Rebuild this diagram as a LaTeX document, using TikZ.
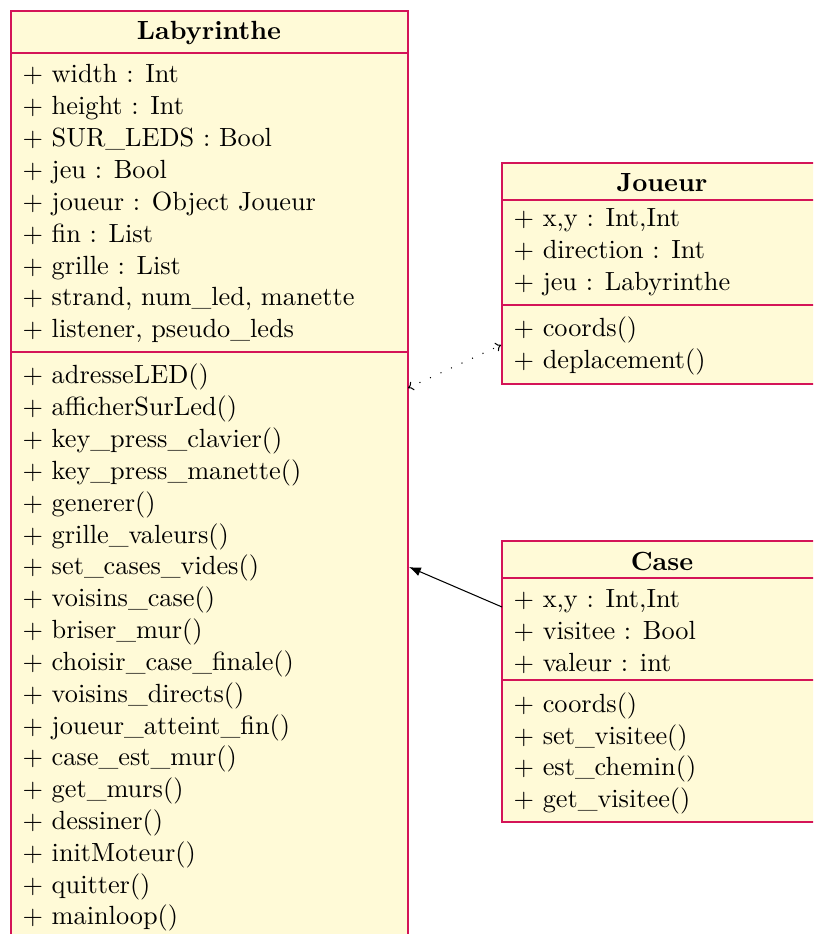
\documentclass[tikz,border=0pt]{standalone}
\usetikzlibrary{arrows.meta}
\definecolor{umlred}{RGB}{212,20,88}
\definecolor{umlfill}{RGB}{255,250,215}
\begin{document}
\begin{tikzpicture}[x=0.3802pt,y=-0.3802pt,
  classbox/.style={fill=umlfill,rectangle,inner sep=0pt,anchor=north west},
  sep/.style={draw=umlred,line width=0.5pt},
  mem/.style={anchor=base west,inner sep=0pt},
  ttl/.style={anchor=base,inner sep=0pt,font=\bfseries}]
\useasboundingbox (0,0) rectangle (813,934);
\clip (0,0) rectangle (813,934);
% boxes
\node[classbox,minimum width=396*0.3802pt,minimum height=960*0.3802pt] (lab) at (11,11) {};
\node[classbox,minimum width=320*0.3802pt,minimum height=220*0.3802pt] (jou) at (502,163) {};
\node[classbox,minimum width=320*0.3802pt,minimum height=280*0.3802pt] (cas) at (502,541) {};
\draw[sep] (lab.north west) rectangle (lab.south east);
\draw[sep] (jou.north west) rectangle (jou.south east);
\draw[sep] (cas.north west) rectangle (cas.south east);
\draw[sep] (11,53) -- (407,53);
\draw[sep] (11,352) -- (407,352);
\draw[sep] (502,200) -- (822,200);
\draw[sep] (502,305) -- (822,305);
\draw[sep] (502,578) -- (822,578);
\draw[sep] (502,680) -- (822,680);
% Labyrinthe
\node[ttl] (labt) at (209,40) {Labyrinthe};
\node[mem] (la1) at (22,83) {$+$ width : Int};
\node[mem] (la2) at (22,114.9) {$+$ height : Int};
\node[mem] (la3) at (22,146.7) {$+$ SUR\_LEDS : Bool};
\node[mem] (la4) at (22,178.6) {$+$ jeu : Bool};
\node[mem] (la5) at (22,210.4) {$+$ joueur : Object Joueur};
\node[mem] (la6) at (22,242.3) {$+$ fin : List};
\node[mem] (la7) at (22,274.1) {$+$ grille : List};
\node[mem] (la8) at (22,306) {$+$ strand, num\_led, manette};
\node[mem] (la9) at (22,337.8) {$+$ listener, pseudo\_leds};
\node[mem] (lm1) at (22,384) {$+$ adresseLED()};
\node[mem] (lm2) at (22,415.8) {$+$ afficherSurLed()};
\node[mem] (lm3) at (22,447.6) {$+$ key\_press\_clavier()};
\node[mem] (lm4) at (22,479.5) {$+$ key\_press\_manette()};
\node[mem] (lm5) at (22,511.3) {$+$ generer()};
\node[mem] (lm6) at (22,543.1) {$+$ grille\_valeurs()};
\node[mem] (lm7) at (22,574.9) {$+$ set\_cases\_vides()};
\node[mem] (lm8) at (22,606.7) {$+$ voisins\_case()};
\node[mem] (lm9) at (22,638.6) {$+$ briser\_mur()};
\node[mem] (lm10) at (22,670.4) {$+$ choisir\_case\_finale()};
\node[mem] (lm11) at (22,702.2) {$+$ voisins\_directs()};
\node[mem] (lm12) at (22,734) {$+$ joueur\_atteint\_fin()};
\node[mem] (lm13) at (22,765.8) {$+$ case\_est\_mur()};
\node[mem] (lm14) at (22,797.7) {$+$ get\_murs()};
\node[mem] (lm15) at (22,829.5) {$+$ dessiner()};
\node[mem] (lm16) at (22,861.3) {$+$ initMoteur()};
\node[mem] (lm17) at (22,893.1) {$+$ quitter()};
\node[mem] (lm18) at (22,924.9) {$+$ mainloop()};
% Joueur
\node[ttl] (jout) at (662,192) {Joueur};
\node[mem] (ja1) at (513,227) {$+$ x,y : Int,Int};
\node[mem] (ja2) at (513,259) {$+$ direction : Int};
\node[mem] (ja3) at (513,291) {$+$ jeu : Labyrinthe};
\node[mem] (jm1) at (513,336) {$+$ coords()};
\node[mem] (jm2) at (513,368) {$+$ deplacement()};
% Case
\node[ttl] (cast) at (662,570) {Case};
\node[mem] (ca1) at (513,607) {$+$ x,y : Int,Int};
\node[mem] (ca2) at (513,639) {$+$ visitee : Bool};
\node[mem] (ca3) at (513,671) {$+$ valeur : int};
\node[mem] (cm1) at (513,712) {$+$ coords()};
\node[mem] (cm2) at (513,744) {$+$ set\_visitee()};
\node[mem] (cm3) at (513,775) {$+$ est\_chemin()};
\node[mem] (cm4) at (513,807) {$+$ get\_visitee()};
% connectors
\coordinate (labJ) at (408,388);
\coordinate (jouL) at (501,345);
\coordinate (labC) at (409,567);
\coordinate (casL) at (502,607);
\draw[loosely dotted,{To[length=2pt,width=3.5pt]}-{To[length=2pt,width=3.5pt]}] (labJ) -- (jouL);
\draw[-{Latex[length=4.5pt,width=3.5pt]}] (casL) -- (labC);
\end{tikzpicture}
\end{document}
